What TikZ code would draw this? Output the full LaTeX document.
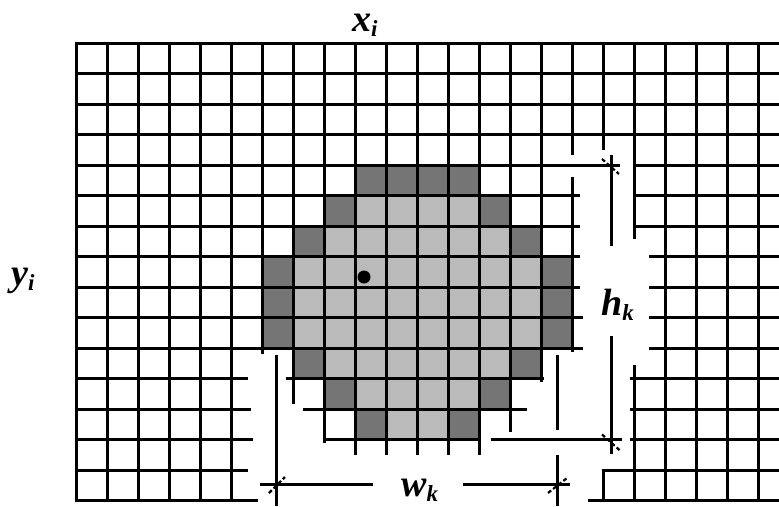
\documentclass[tikz,border=0pt]{standalone}
\usepackage{fontspec}
\usetikzlibrary{calc}
\setmainfont{Liberation Serif}
\newcommand{\mylbl}[2]{{\fontsize{38}{40}\selectfont\bfseries\itshape #1\raisebox{-5pt}{\fontsize{23}{23}\selectfont #2}}}
\begin{document}
\begin{tikzpicture}[x=1pt,y=-1pt,
  gridline/.style={line width=3pt,line cap=rect},
  dimline/.style={line width=3pt},
  tickmark/.style={line width=2.2pt,dash pattern=on 4pt off 2.5pt},
  darkcell/.style={fill=black!54},
  lightcell/.style={fill=black!27},
  lbl/.style={inner sep=0pt,anchor=base west}]
\useasboundingbox (0,0) rectangle (779,506);
\fill[white] (0,0) rectangle (779,506);
% cells: column c spans 76+31c .. 76+31(c+1); row r spans 43+30.5r .. 43+30.5(r+1)
\def\cell#1#2#3{\fill[#3] ({76+31*#1},{43+30.5*#2}) rectangle ({76+31*(#1+1)},{43+30.5*(#2+1)});}
% dark cells
\foreach \c in {9,10,11,12} {\cell{\c}{4}{darkcell}}
\foreach \c/\r in {8/5,13/5,7/6,14/6,6/7,15/7,6/8,15/8,6/9,15/9,7/10,14/10,8/11,13/11,9/12,12/12} {\cell{\c}{\r}{darkcell}}
% light cells
\foreach \c in {9,...,12} {\cell{\c}{5}{lightcell}}
\foreach \c in {8,...,13} {\cell{\c}{6}{lightcell}}
\foreach \r in {7,8,9} {\foreach \c in {7,...,14} {\cell{\c}{\r}{lightcell}}}
\foreach \c in {8,...,13} {\cell{\c}{10}{lightcell}}
\foreach \c in {9,...,12} {\cell{\c}{11}{lightcell}}
\foreach \c in {10,11} {\cell{\c}{12}{lightcell}}
% vertical grid lines
\foreach \x in {76,107,138,169,200,231,665,696,727,758} {\draw[gridline] (\x,43) -- (\x,500.5);}
\draw[gridline] (262,43) -- (262,352);
\draw[gridline] (293,43) -- (293,402);
\draw[gridline] (324,43) -- (324,441);
\foreach \x in {355,386,417,448,479} {\draw[gridline] (\x,43) -- (\x,453);}
\draw[gridline] (510,43) -- (510,430);
\draw[gridline] (541,43) -- (541,380);
\draw[gridline] (572,43) -- (572,153);
\draw[gridline] (572,178) -- (572,350);
\draw[gridline] (603,43) -- (603,148);
\draw[gridline] (603,470) -- (603,500.5);
\draw[gridline] (634,43) -- (634,237);
\draw[gridline] (634,366) -- (634,500.5);
% horizontal grid lines
\foreach \y in {43,73.5,104,134.5} {\draw[gridline] (76,\y) -- (779,\y);}
\draw[gridline] (76,165) -- (618,165);
\draw[gridline] (634,165) -- (779,165);
\foreach \y in {195.5,226} {\draw[gridline] (76,\y) -- (578,\y); \draw[gridline] (634,\y) -- (779,\y);}
\foreach \y in {256.5,287} {\draw[gridline] (76,\y) -- (578,\y); \draw[gridline] (650,\y) -- (779,\y);}
\foreach \y in {317.5,348} {\draw[gridline] (76,\y) -- (581,\y); \draw[gridline] (650,\y) -- (779,\y);}
\draw[gridline] (76,378.5) -- (246,378.5);
\draw[gridline] (287,378.5) -- (542,378.5);
\draw[gridline] (631,378.5) -- (779,378.5);
\draw[gridline] (76,409) -- (249,409);
\draw[gridline] (304,409) -- (525,409);
\draw[gridline] (631,409) -- (779,409);
\draw[gridline] (76,439.5) -- (251,439.5);
\draw[gridline] (324,439.5) -- (478,439.5);
\draw[gridline] (492,439.5) -- (620,439.5);
\draw[gridline] (631,439.5) -- (779,439.5);
\draw[gridline] (76,470) -- (246,470);
\draw[gridline] (603,470) -- (779,470);
\draw[gridline] (76,500.5) -- (256,500.5);
\draw[gridline] (589,500.5) -- (779,500.5);
% centre dot
\fill (364,277) circle (6.5);
% labels
\node[lbl] (xi) at (352,31) {\mylbl{x}{i}};
\node[lbl] (yi) at (11,285) {\mylbl{y}{i}};
\node[lbl] (hk) at (601,315) {\mylbl{h}{k}};
\node[lbl] (wk) at (401,496) {\mylbl{w}{k}};
% h_k dimension
\coordinate (htop) at (611,165);
\coordinate (hbot) at (611,439.5);
\draw[dimline] (611,155) -- (611,246);
\draw[dimline] (611,336) -- (611,454);
\draw[tickmark] ($(htop)+(-9,-6)$) -- ($(htop)+(8,9)$);
\draw[tickmark] ($(hbot)+(-9,-5)$) -- ($(hbot)+(9,11)$);
% w_k dimension
\coordinate (wl) at (276,484);
\coordinate (wr) at (557,484);
\draw[dimline] (260,484) -- (373,484);
\draw[dimline] (463,484) -- (570,484);
\draw[dimline] (276,355) -- (276,506);
\draw[dimline] (557,355) -- (557,430);
\draw[dimline] (557,455) -- (557,506);
\draw[tickmark] ($(wl)+(-7,9)$) -- ($(wl)+(9,-7)$);
\draw[tickmark] ($(wr)+(-9,9)$) -- ($(wr)+(10,-6)$);
\end{tikzpicture}
\end{document}
